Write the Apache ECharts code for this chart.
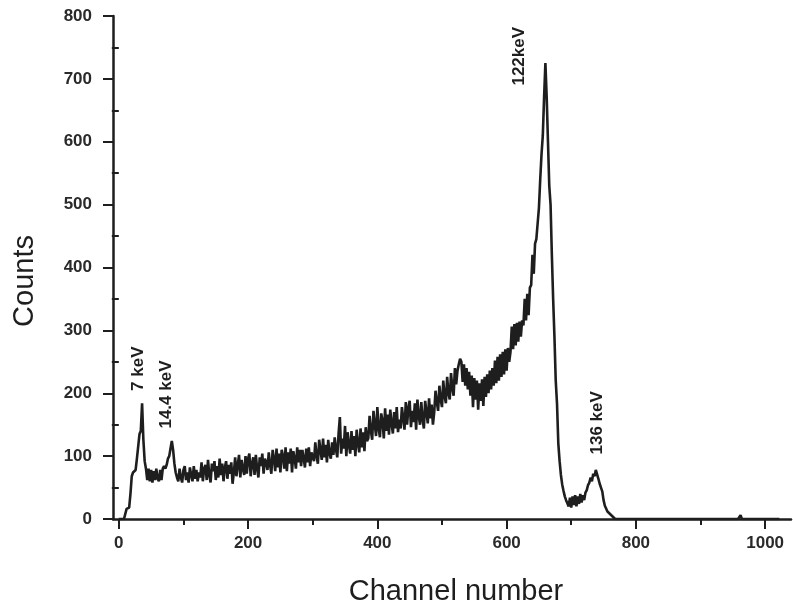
<!DOCTYPE html>
<html>
<head>
<meta charset="utf-8">
<script src="https://cdn.jsdelivr.net/npm/echarts@6/dist/echarts.min.js"></script>
<style>
html,body{margin:0;padding:0;background:#fff;}
#chart{width:793px;height:606px;}
</style>
</head>
<body>
<div id="chart"></div>
<script>
// ---- data (channel step 2 inside each segment) ----
const channelStep = 2;
const countsFrom0 = [0,0,0,0,0,2,16,16,18,40,68,74,76,78,96,98,135,140,184,126,92,80];
const countsFrom44 = [62,80,60,78,58,76,62,80,64,60,78,62,80,84,80,86,96,100,112,124,110,88,74,66];
const countsFrom92 = [60,80,66,58,78,84,62,74,58,82,70,60,84,64,78,60,74,
  66,90,60,80,86,62,94,70,58,88,76,92,62,84,66,96,70,88,60,82,92,64,86,72,90,56,
  74,98,68,86,102,66,94,80,70,100,72,96,104,68,88,98,70,102,80,66,98,84,104,72,96,90,
  78,106,86,72,110,96,76,112,82,104,74,110,100,80,114,76,106,88,112,74,108,96,80,114,90,110];
const countsFrom282 = [84,110,96,82,112,90,114,84,106,98,
  92,122,100,88,126,110,94,128,98,118,90,126,104,96,122,
  102,130,110,98,136,162,104,128,112,148,100,138,118,104,140,110,132,100,142,120,106,144,114,138,108,146,124,
  128,164,140,126,172,150,132,178,144,130,168,156,128,176,140,166,134,174,152,136,170,144,178,138,158,
  144,178,160,142,186,150,176,188,146,172,154,184,142,190,164,150,186,158,144,188,170,152,192,160,182,150,
  170,204,186,172,212,190,178,220,196,184,226,200,190,232,208,196,240,214,236,246,255];
const countsFrom530 = [250,218,246,212,240,206,234,196,228,178,224,190,220,174,216,188,222,180,226,194,230,200,236,206,240,
  212,252,216,258,220,262,226,266,230,270,236,272,250,
  266,306,270,310,276,312,282,314,290,316,
  308,350,316,358,324,368,
  372,420,390,438];
const countsFrom646 = [445,470,495,540,580,610,671,725,671,600,530,500,420,350,290,220,183,120,92,70,55,45,36,30,25];
const countsFrom696 = [20,34,18,36,22,38,20,36,24,40,26,38,30,42,
  46,54,58,66,60,72,68,78,80,
  64,56,50,44,
  30,21,18,12,10,8,
  6,4,2,0];
const tailChannels = [770, 958, 960, 962, 964, 1022];
const tailCounts = [0, 0, 0, 6, 0, 0];

const segmentStarts = [0, 44, 92, 282, 530, 646, 696];
const segmentCounts = [countsFrom0, countsFrom44, countsFrom92, countsFrom282, countsFrom530, countsFrom646, countsFrom696];

const xTickValues = [0, 200, 400, 600, 800, 1000];
const xMinorValues = [100, 300, 500, 700, 900];
const yTickValues = [0, 100, 200, 300, 400, 500, 600, 700, 800];
const yMinorValues = [50, 150, 250, 350, 450, 550, 650, 750];

const annLabels = ['7 keV', '14.4 keV', '122keV', '136 keV'];
const annChannel = [30, 74, 620, 741];
const annCount = [239, 198, 736, 153];

// ---- build series data ----
const spectrum = [];
segmentCounts.forEach((arr, s) => {
  arr.forEach((v, i) => spectrum.push([segmentStarts[s] + i * channelStep, v]));
});
tailChannels.forEach((c, i) => spectrum.push([c, tailCounts[i]]));

const ink = '#1e1e1e';
const labelFont = {fontFamily: 'Liberation Sans, Arial, sans-serif', fontSize: 17, fontWeight: 'bold', color: '#2a2a2a'};

const chart = echarts.init(document.getElementById('chart'), null, {renderer: 'canvas'});
chart.setOption({
  animation: false,
  backgroundColor: '#fff',
  grid: {left: 113, right: 2, top: 16, bottom: 87},
  xAxis: [{
    type: 'value', min: -9, max: 1040, position: 'bottom',
    axisLine: {show: true, onZero: false, lineStyle: {color: ink, width: 2.5}},
    axisTick: {show: true, customValues: xTickValues, length: 10, lineStyle: {color: ink, width: 2}},
    axisLabel: Object.assign({show: true, customValues: xTickValues, margin: 16, formatter: v => String(v)}, labelFont),
    splitLine: {show: false}
  }, {
    type: 'value', min: -9, max: 1040, position: 'bottom', offset: 0,
    axisLine: {show: false},
    axisTick: {show: true, customValues: xMinorValues, length: 6, lineStyle: {color: ink, width: 2}},
    axisLabel: {show: false},
    splitLine: {show: false}
  }],
  yAxis: [{
    type: 'value', min: 0, max: 800, position: 'left',
    axisLine: {show: true, onZero: false, lineStyle: {color: ink, width: 2.5}},
    axisTick: {show: true, customValues: yTickValues, length: 10, lineStyle: {color: ink, width: 2}},
    axisLabel: Object.assign({show: true, customValues: yTickValues, margin: 21, formatter: v => String(v)}, labelFont),
    splitLine: {show: false}
  }, {
    type: 'value', min: 0, max: 800, position: 'left', offset: 0,
    axisLine: {show: false},
    axisTick: {show: true, customValues: yMinorValues, length: 7, lineStyle: {color: ink, width: 2}},
    axisLabel: {show: false},
    splitLine: {show: false}
  }],
  series: [{
    type: 'line',
    xAxisIndex: 0, yAxisIndex: 0,
    data: spectrum,
    showSymbol: false,
    symbol: 'none',
    lineStyle: {color: ink, width: 2.6},
    z: 3
  }]
});

const graphics = [];
annLabels.forEach((t, i) => {
  const p = chart.convertToPixel({xAxisIndex: 0, yAxisIndex: 0}, [annChannel[i], annCount[i]]);
  graphics.push({
    type: 'text', x: p[0], y: p[1], rotation: Math.PI / 2,
    style: {text: t, fill: '#1e1e1e', font: 'bold 17px "Liberation Sans", Arial, sans-serif', align: 'center', verticalAlign: 'middle'}
  });
});
graphics.push({
  type: 'text', x: 25, y: 281, rotation: Math.PI / 2,
  style: {text: 'Counts', fill: '#1e1e1e', font: '29px "Liberation Sans", Arial, sans-serif', align: 'center', verticalAlign: 'middle'}
});
graphics.push({
  type: 'text', x: 456, y: 592,
  style: {text: 'Channel number', fill: '#1e1e1e', font: '29px "Liberation Sans", Arial, sans-serif', align: 'center', verticalAlign: 'middle'}
});
chart.setOption({graphic: graphics});
</script>
</body>
</html>
